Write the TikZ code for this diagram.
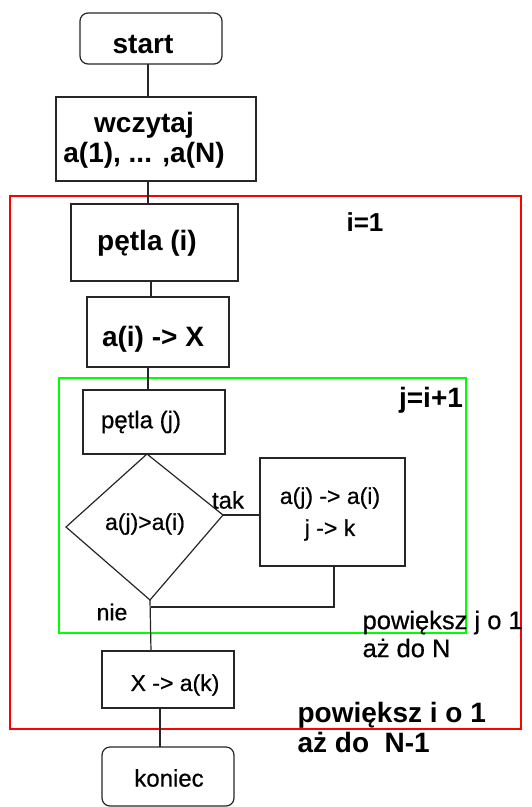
\documentclass[tikz,border=0pt]{standalone}
\usepackage{fontspec}
\setmainfont{Liberation Sans}
\newfontfamily\heavyreg[FakeBold=0.6]{Liberation Sans}
\begin{document}
\begin{tikzpicture}[x=1pt,y=-1pt,
  line width=1.2pt,
  box/.style={draw=black!85, line width=1.2pt},
  term/.style={box, rounded corners=8pt},
  link/.style={draw=black!85, line width=1.2pt},
  bigb/.style={font=\fontsize{28}{30}\selectfont\bfseries, inner sep=0pt},
  midb/.style={font=\fontsize{26}{30}\selectfont\bfseries, inner sep=0pt},
  reg/.style={font=\heavyreg\fontsize{24}{32}\selectfont, inner sep=0pt},
  regs/.style={font=\heavyreg\fontsize{23}{32}\selectfont, inner sep=0pt}]
\useasboundingbox (0,0) rectangle (532,807);

% loop frames
\draw[red, line width=1.2pt] (10,196) rectangle (521,729);
\draw[green, line width=1.2pt] (59,378) rectangle (466,633);

% boxes
\draw[term] (80,13) rectangle (222,64);
\node[bigb] (start) at (143,44) {start};
\coordinate (startS) at (148,64);

\draw[box] (56,97) rectangle (256,181);
\node[bigb, align=center, font=\fontsize{28}{30}\selectfont\bfseries] (wc) at (144,140) {wczytaj\\a(1), ... ,a(N)};
\coordinate (wcN) at (148,97);
\coordinate (wcS) at (148,181);

\draw[box] (71,204) rectangle (238,281);
\node[bigb] (pi) at (147,243) {pętla (i)};
\coordinate (piN) at (148,204);
\coordinate (piS) at (151,281);

\draw[box] (87,297) rectangle (229,367);
\node[bigb] (ax) at (153,339) {a(i) -> X};
\coordinate (axN) at (151,297);
\coordinate (axS) at (148,367);

\draw[box] (83,390) rectangle (225,454);
\node[reg] (pj) at (141,422) {pętla (j)};
\coordinate (pjN) at (148,390);

% decision
\coordinate (dT) at (147,454);
\coordinate (dR) at (223,515);
\coordinate (dB) at (150,600);
\coordinate (dL) at (66,527);
\draw[box, line join=miter] (dT) -- (dR) -- (dB) -- (dL) -- cycle;
\node[regs] (cond) at (145,524) {a(j)>a(i)};

\draw[box] (260,458) rectangle (405,566);
\node[regs, align=center, font=\heavyreg\fontsize{23}{32}\selectfont] (swap) at (330,514) {a(j) -> a(i)\\j -> k};
\coordinate (swW) at (260,515);
\coordinate (swS) at (334,566);
\coordinate (back) at (334,607);
\coordinate (join) at (151,607);

\draw[box] (102,651) rectangle (234,708);
\node[regs] (xk) at (175,685) {X -> a(k)};
\coordinate (xkN) at (151,651);
\coordinate (xkS) at (160,708);

\draw[term] (102,747) rectangle (234,806);
\node[reg] (end) at (169,778) {koniec};
\coordinate (endN) at (160,747);

% connectors
\draw[link] (startS) -- (wcN);
\draw[link] (wcS) -- (piN);
\draw[link] (piS) -- (axN);
\draw[link] (axS) -- (pjN);
\draw[link] (dR) -- (swW);
\draw[link] (swS) -- (back) -- (join);
\draw[link] (dB) -- (xkN);
\draw[link] (xkS) -- (endN);

% labels
\node[reg] (tak) at (228,500) {tak};
\node[regs] (nie) at (112,612) {nie};
\node[midb] (ione) at (365,222) {i=1};
\node[bigb] (jinit) at (431,400) {j=i+1};
\node[reg, anchor=west, align=left, font=\heavyreg\fontsize{25.5}{28}\selectfont] (jstep) at (362,634) {powiększ j o 1\\aż do N};
\node[bigb, anchor=west, align=left, font=\fontsize{28}{30}\selectfont\bfseries] (istep) at (297,727) {powiększ i o 1\\aż do \ N-1};
\end{tikzpicture}
\end{document}
